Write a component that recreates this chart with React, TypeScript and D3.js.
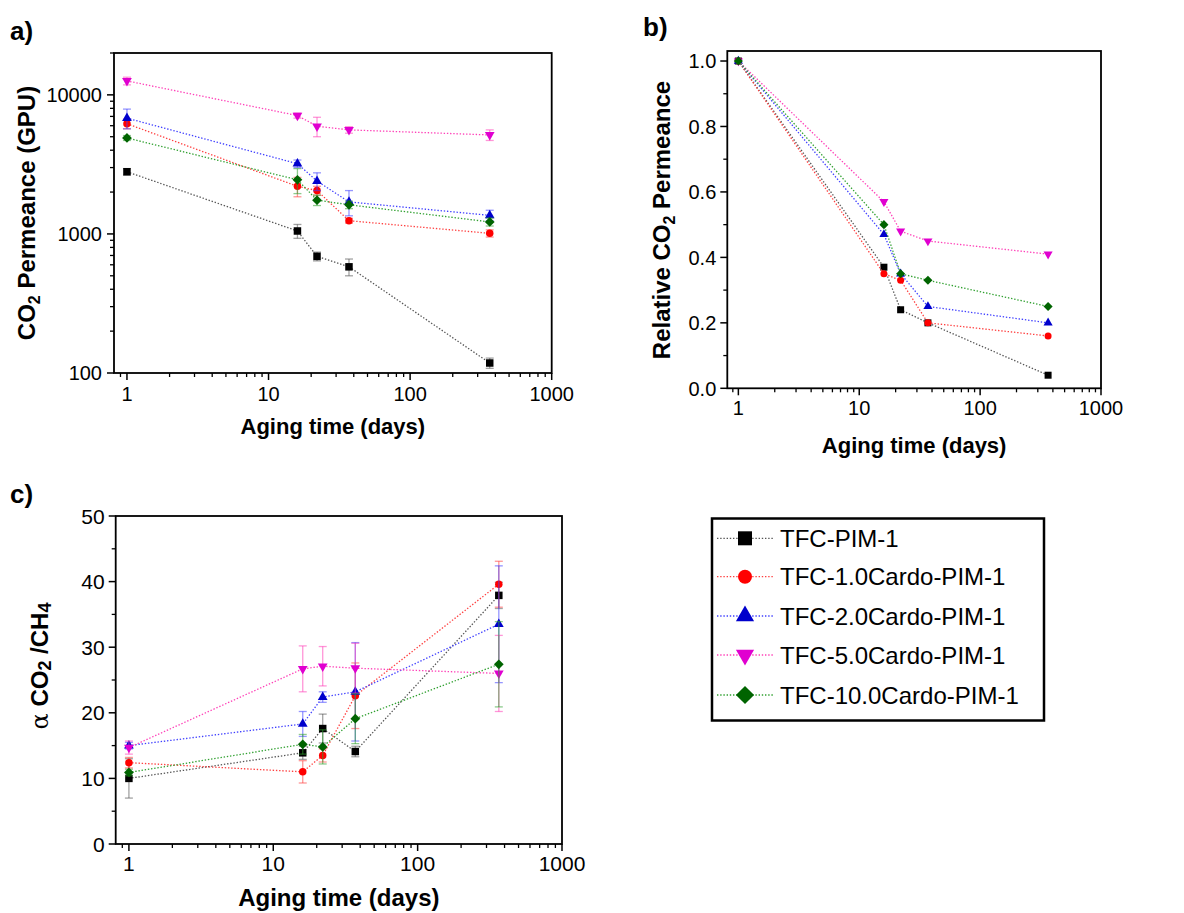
import React from "react";
import * as d3 from "d3";

// aging time points (days)
const DAYS = [1, 16, 22, 37, 365];

const SERIES_NAMES = [
  "TFC-PIM-1",
  "TFC-1.0Cardo-PIM-1",
  "TFC-2.0Cardo-PIM-1",
  "TFC-5.0Cardo-PIM-1",
  "TFC-10.0Cardo-PIM-1",
];
const SERIES_FILL = ["#000000", "#ff0000", "#0000cc", "#e000d0", "#006400"];
const SERIES_LINE = ["#555555", "#ff4040", "#4040ff", "#ff40b8", "#30a030"];
const SERIES_SHAPE = ["square", "circle", "triangle", "triangleDown", "diamond"];

// a) CO2 permeance (GPU)
const PERM_PIM1 = [2800, 1050, 690, 580, 118];
const PERM_C10 = [6200, 2200, 2050, 1245, 1010];
const PERM_C20 = [6800, 3200, 2400, 1700, 1360];
const PERM_C50 = [12600, 7100, 5950, 5600, 5150];
const PERM_C100 = [4900, 2450, 1750, 1620, 1220];
const PERM_ERR_PIM1 = [150, 120, 50, 80, 10];
const PERM_ERR_C10 = [500, 350, 150, 50, 60];
const PERM_ERR_C20 = [1100, 200, 350, 350, 120];
const PERM_ERR_C50 = [800, 300, 950, 300, 450];
const PERM_ERR_C100 = [200, 500, 150, 100, 80];

// b) relative CO2 permeance
const REL_PIM1 = [1.0, 0.37, 0.24, 0.2, 0.04];
const REL_C10 = [1.0, 0.35, 0.33, 0.2, 0.16];
const REL_C20 = [1.0, 0.47, 0.35, 0.25, 0.2];
const REL_C50 = [1.0, 0.57, 0.48, 0.45, 0.41];
const REL_C100 = [1.0, 0.5, 0.35, 0.33, 0.25];

// c) CO2/CH4 selectivity
const SEL_PIM1 = [10.0, 13.9, 17.6, 14.1, 37.9];
const SEL_C10 = [12.4, 11.0, 13.5, 22.6, 39.6];
const SEL_C20 = [15.0, 18.3, 22.4, 23.2, 33.5];
const SEL_C50 = [14.7, 26.7, 27.1, 26.8, 26.0];
const SEL_C100 = [10.9, 15.2, 14.8, 19.1, 27.4];
const SEL_ERR_PIM1 = [3.0, 1.0, 2.2, 0.8, 2.0];
const SEL_ERR_C10 = [0.8, 1.7, 1.0, 5.0, 3.5];
const SEL_ERR_C20 = [0.5, 1.9, 0.8, 7.5, 8.9];
const SEL_ERR_C50 = [1.0, 3.5, 3.0, 3.8, 5.8];
const SEL_ERR_C100 = [0.5, 1.5, 2.6, 3.8, 6.5];

const X_MAJOR = [1, 10, 100, 1000];
const PERM_MAJOR = [100, 1000, 10000];
const REL_MAJOR = [0, 0.2, 0.4, 0.6, 0.8, 1.0];
const REL_MINOR = [0.1, 0.3, 0.5, 0.7, 0.9];
const SEL_MAJOR = [0, 10, 20, 30, 40, 50];
const SEL_MINOR = [5, 15, 25, 35, 45];

const FONT = "Arial, 'Liberation Sans', Helvetica, sans-serif";

function markerPath(shape: string, s: number) {
  // s = nominal width of the marker
  if (shape === "square") return d3.symbol(d3.symbolSquare, s * s)()!;
  if (shape === "circle") return d3.symbol(d3.symbolCircle, Math.PI * (s / 2) * (s / 2))()!;
  if (shape === "triangle" || shape === "triangleDown") {
    const w = s * 1.3;
    const h = w * 0.87;
    const dir = shape === "triangle" ? 1 : -1;
    return `M0,${(-h * 2 / 3) * dir}L${w / 2},${(h / 3) * dir}L${-w / 2},${(h / 3) * dir}Z`;
  }
  const r = s * 0.65;
  return `M0,${-r}L${r},0L0,${r}L${-r},0Z`;
}

type PanelProps = {
  box: { left: number; right: number; top: number; bottom: number };
  y: any;
  yMajor: number[];
  yMinor: number[];
  yFmt: (v: number) => string;
  series: number[][];
  errs?: number[][];
  tickFont: number;
  xLabelDy: number;
  yLabelGap: number;
  xTitleY: number;
  titleFont: number;
  markerSize: number;
};

function Panel({ box, y, yMajor, yMinor, yFmt, series, errs, tickFont, xLabelDy, yLabelGap, xTitleY, titleFont, markerSize }: PanelProps) {
  const x = d3.scaleLog().domain([0.81, 1000]).range([box.left, box.right]);
  const xMinor = x.ticks().filter((t) => !X_MAJOR.includes(t));
  const line = d3
    .line<number>()
    .x((_, i) => x(DAYS[i]))
    .y((d) => y(d));
  return (
    <g>
      {series.map((vals, si) => (
        <g key={si}>
          {errs &&
            vals.map((v, i) => {
              const e = errs[si][i];
              const cx = x(DAYS[i]);
              const y1 = y(v + e);
              const y2 = y(Math.max(v - e, 1e-6));
              return (
                <g key={i} stroke={SERIES_LINE[si]} strokeOpacity={0.55} strokeWidth={1.3}>
                  <line x1={cx} x2={cx} y1={y1} y2={y2} />
                  <line x1={cx - 4} x2={cx + 4} y1={y1} y2={y1} />
                  <line x1={cx - 4} x2={cx + 4} y1={y2} y2={y2} />
                </g>
              );
            })}
          <path d={line(vals)!} fill="none" stroke={SERIES_LINE[si]} strokeWidth={1.3} strokeDasharray="1.4,1.8" />
          {vals.map((v, i) => (
            <path
              key={i}
              d={markerPath(SERIES_SHAPE[si], markerSize)}
              transform={`translate(${x(DAYS[i])},${y(v)})`}
              fill={SERIES_FILL[si]}
            />
          ))}
        </g>
      ))}
      <rect
        x={box.left}
        y={box.top}
        width={box.right - box.left}
        height={box.bottom - box.top}
        fill="none"
        stroke="#000"
        strokeWidth={1.8}
      />
      {/* x ticks */}
      {X_MAJOR.map((t) => (
        <g key={t}>
          <line x1={x(t)} x2={x(t)} y1={box.bottom} y2={box.bottom + 7} stroke="#000" strokeWidth={1.5} />
          <text x={x(t)} y={box.bottom + xLabelDy} textAnchor="middle" fontSize={tickFont} fontFamily={FONT}>
            {String(t)}
          </text>
        </g>
      ))}
      {xMinor.map((t) => (
        <line key={t} x1={x(t)} x2={x(t)} y1={box.bottom} y2={box.bottom + 4} stroke="#000" strokeWidth={1.3} />
      ))}
      {/* y ticks */}
      {yMajor.map((t) => (
        <g key={t}>
          <line x1={box.left - 7} x2={box.left} y1={y(t)} y2={y(t)} stroke="#000" strokeWidth={1.5} />
          <text
            x={box.left - yLabelGap}
            y={y(t) + tickFont * 0.36}
            textAnchor="end"
            fontSize={tickFont}
            fontFamily={FONT}
          >
            {yFmt(t)}
          </text>
        </g>
      ))}
      {yMinor.map((t) => (
        <line key={t} x1={box.left - 4} x2={box.left} y1={y(t)} y2={y(t)} stroke="#000" strokeWidth={1.3} />
      ))}
      <text
        x={(box.left + box.right) / 2}
        y={xTitleY}
        textAnchor="middle"
        fontSize={titleFont}
        fontWeight="bold"
        fontFamily={FONT}
      >
        Aging time (days)
      </text>
    </g>
  );
}

function RotTitle({ x, y, children }: { x: number; y: number; children: React.ReactNode }) {
  return (
    <text
      transform={`translate(${x},${y}) rotate(-90)`}
      textAnchor="middle"
      fontSize={24}
      fontWeight="bold"
      fontFamily={FONT}
    >
      {children}
    </text>
  );
}

export default function App() {
  // panel a
  const boxA = { left: 114, right: 551.7, top: 53, bottom: 373 };
  const yA = d3.scaleLog().domain([100, 20000]).range([boxA.bottom, boxA.top]);
  const permMinor = yA.ticks().filter((t) => !PERM_MAJOR.includes(t));

  // panel b
  const boxB = { left: 727.3, right: 1101, top: 51, bottom: 388.3 };
  const yB = d3.scaleLinear().domain([0, 1.0306]).range([boxB.bottom, boxB.top]);

  // panel c
  const boxC = { left: 115.7, right: 562, top: 516, bottom: 844 };
  const yC = d3.scaleLinear().domain([0, 50]).range([boxC.bottom, boxC.top]);

  const legendRows = [538.3, 576.7, 616, 655, 695];

  return (
    <svg width={1184} height={913} style={{ position: "absolute", left: 0, top: 0, background: "#fff" }}>
      <text x={10} y={40} fontSize={26} fontWeight="bold" fontFamily={FONT}>a)</text>
      <text x={643} y={36} fontSize={26} fontWeight="bold" fontFamily={FONT}>b)</text>
      <text x={10} y={503} fontSize={26} fontWeight="bold" fontFamily={FONT}>c)</text>

      <Panel
        box={boxA}
        y={yA}
        yMajor={PERM_MAJOR}
        yMinor={permMinor}
        yFmt={(v) => String(v)}
        series={[PERM_PIM1, PERM_C10, PERM_C20, PERM_C50, PERM_C100]}
        errs={[PERM_ERR_PIM1, PERM_ERR_C10, PERM_ERR_C20, PERM_ERR_C50, PERM_ERR_C100]}
        tickFont={20}
        xLabelDy={28}
        yLabelGap={12}
        xTitleY={434}
        titleFont={22}
        markerSize={7.5}
      />
      <RotTitle x={35} y={213}>
        CO<tspan fontSize={16} dy={5}>2</tspan>
        <tspan dy={-5}> Permeance (GPU)</tspan>
      </RotTitle>

      <Panel
        box={boxB}
        y={yB}
        yMajor={REL_MAJOR}
        yMinor={REL_MINOR}
        yFmt={(v) => v.toFixed(1)}
        series={[REL_PIM1, REL_C10, REL_C20, REL_C50, REL_C100]}
        tickFont={20}
        xLabelDy={27}
        yLabelGap={11}
        xTitleY={453}
        titleFont={22}
        markerSize={7}
      />
      <RotTitle x={670} y={220}>
        Relative CO<tspan fontSize={16} dy={5}>2</tspan>
        <tspan dy={-5}> Permeance</tspan>
      </RotTitle>

      <Panel
        box={boxC}
        y={yC}
        yMajor={SEL_MAJOR}
        yMinor={SEL_MINOR}
        yFmt={(v) => String(v)}
        series={[SEL_PIM1, SEL_C10, SEL_C20, SEL_C50, SEL_C100]}
        errs={[SEL_ERR_PIM1, SEL_ERR_C10, SEL_ERR_C20, SEL_ERR_C50, SEL_ERR_C100]}
        tickFont={21}
        xLabelDy={27}
        yLabelGap={11}
        xTitleY={906}
        titleFont={24}
        markerSize={7.5}
      />
      <RotTitle x={48} y={666}>
        <tspan fontFamily="'DejaVu Serif', serif" fontWeight="normal">α</tspan> CO
        <tspan fontSize={18} dy={3}>2</tspan>
        <tspan dy={-3}> /CH</tspan>
        <tspan fontSize={18} dy={3}>4</tspan>
      </RotTitle>

      {/* legend */}
      <rect x={712} y={518.5} width={332} height={202} fill="#fff" stroke="#000" strokeWidth={2.5} />
      {SERIES_NAMES.map((name, i) => (
        <g key={name}>
          <line
            x1={717}
            x2={773}
            y1={legendRows[i]}
            y2={legendRows[i]}
            stroke={SERIES_LINE[i]}
            strokeWidth={1.3}
            strokeDasharray="1.4,1.8"
          />
          <path
            d={markerPath(SERIES_SHAPE[i], 14)}
            transform={`translate(745,${legendRows[i]})`}
            fill={SERIES_FILL[i]}
          />
          <text x={780} y={legendRows[i] + 8.5} fontSize={24} fontFamily={FONT}>
            {name}
          </text>
        </g>
      ))}
    </svg>
  );
}
